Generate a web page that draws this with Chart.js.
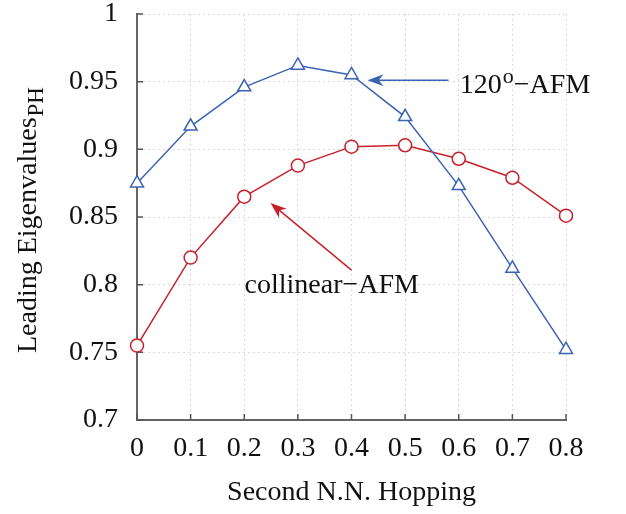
<!DOCTYPE html>
<html>
<head>
<meta charset="utf-8">
<script src="https://cdn.jsdelivr.net/npm/chart.js@4.4.1/dist/chart.umd.min.js"></script>
<style>
  html, body { margin: 0; padding: 0; background: #fff; }
</style>
</head>
<body>
<canvas id="chart" width="626" height="514"></canvas>
<script>
// data
const hopping = [0, 0.1, 0.2, 0.3, 0.4, 0.5, 0.6, 0.7, 0.8];
const afm120 = [0.875, 0.917, 0.946, 0.962, 0.955, 0.924, 0.873, 0.812, 0.752];
const collinear = [0.755, 0.820, 0.865, 0.888, 0.902, 0.903, 0.893, 0.879, 0.851];

const xTicks = [0, 0.1, 0.2, 0.3, 0.4, 0.5, 0.6, 0.7, 0.8];
const xTickLabels = ['0', '0.1', '0.2', '0.3', '0.4', '0.5', '0.6', '0.7', '0.8'];
const yTicks = [0.7, 0.75, 0.8, 0.85, 0.9, 0.95, 1];
const yTickLabels = ['0.7', '0.75', '0.8', '0.85', '0.9', '0.95', '1'];

const blue = '#3a63b3';
const red = '#c8202b';
const serif = '"Liberation Serif", "DejaVu Serif", serif';

// labels with arrows, placed in data units
const notes = [
  { main: '120', sup: 'o', rest: '\u2212AFM', x: 0.602, y: 0.9416, color: blue, from: [0.581, 0.951], to: [0.430, 0.951] },
  { main: 'collinear\u2212AFM', sup: '', rest: '', x: 0.2006, y: 0.7938, color: red, from: [0.400, 0.8108], to: [0.249, 0.8603] }
];

function toPoints(ys) {
  return hopping.map((x, i) => ({ x: x, y: ys[i] }));
}

const decor = {
  id: 'decor',
  beforeDatasetsDraw(chart) {
    const ctx = chart.ctx;
    const xs = chart.scales.x, ys = chart.scales.y;
    const area = chart.chartArea;

    // inward tick marks
    ctx.save();
    ctx.strokeStyle = '#555';
    ctx.lineWidth = 1.5;
    ctx.beginPath();
    xTicks.forEach(v => {
      const px = xs.getPixelForValue(v);
      ctx.moveTo(px, area.bottom);
      ctx.lineTo(px, area.bottom - 6);
    });
    yTicks.forEach(v => {
      const py = ys.getPixelForValue(v);
      ctx.moveTo(area.left, py);
      ctx.lineTo(area.left + 6, py);
    });
    ctx.stroke();
    ctx.restore();
  },
  afterDraw(chart) {
    const ctx = chart.ctx;
    const xs = chart.scales.x, ys = chart.scales.y;
    const area = chart.chartArea;

    // annotations
    notes.forEach(n => {
      const fx = xs.getPixelForValue(n.from[0]), fy = ys.getPixelForValue(n.from[1]);
      const tx = xs.getPixelForValue(n.to[0]), ty = ys.getPixelForValue(n.to[1]);
      const ang = Math.atan2(ty - fy, tx - fx);
      const head = 16, half = 6;
      ctx.save();
      ctx.strokeStyle = n.color;
      ctx.fillStyle = n.color;
      ctx.lineWidth = 1.5;
      ctx.beginPath();
      ctx.moveTo(fx, fy);
      ctx.lineTo(tx - Math.cos(ang) * head * 0.7, ty - Math.sin(ang) * head * 0.7);
      ctx.stroke();
      ctx.beginPath();
      ctx.moveTo(tx, ty);
      ctx.lineTo(tx - Math.cos(ang) * head - Math.sin(ang) * half, ty - Math.sin(ang) * head + Math.cos(ang) * half);
      ctx.lineTo(tx - Math.cos(ang) * head * 0.7, ty - Math.sin(ang) * head * 0.7);
      ctx.lineTo(tx - Math.cos(ang) * head + Math.sin(ang) * half, ty - Math.sin(ang) * head - Math.cos(ang) * half);
      ctx.closePath();
      ctx.fill();

      const lx = xs.getPixelForValue(n.x), ly = ys.getPixelForValue(n.y);
      ctx.fillStyle = '#111';
      ctx.textAlign = 'left';
      ctx.textBaseline = 'alphabetic';
      ctx.font = '28px ' + serif;
      ctx.fillText(n.main, lx, ly);
      let cx = lx + ctx.measureText(n.main).width;
      if (n.sup) {
        ctx.font = '22px ' + serif;
        ctx.fillText(n.sup, cx + 1, ly - 10);
        cx += ctx.measureText(n.sup).width + 1;
      }
      if (n.rest) {
        ctx.font = '28px ' + serif;
        ctx.fillText(n.rest, cx, ly);
      }
      ctx.restore();
    });

    // axis titles
    ctx.save();
    ctx.fillStyle = '#111';
    ctx.font = '28px ' + serif;
    ctx.textAlign = 'center';
    ctx.textBaseline = 'alphabetic';
    ctx.fillText('Second N.N. Hopping', (area.left + area.right) / 2, 500);

    ctx.translate(36, 353);
    ctx.rotate(-Math.PI / 2);
    ctx.textAlign = 'left';
    ctx.fillText('Leading Eigenvalues', 0, 0);
    const w = ctx.measureText('Leading Eigenvalues').width;
    ctx.font = '23px ' + serif;
    ctx.fillText('PH', w + 1, 7);
    ctx.restore();
  }
};

const gridStyle = { color: '#d9d9d9', lineWidth: 1, drawTicks: false };
const borderStyle = { display: true, color: '#666', width: 2, dash: [2, 3] };

new Chart(document.getElementById('chart').getContext('2d'), {
  type: 'line',
  data: {
    datasets: [
      {
        label: '120\u00b0-AFM',
        data: toPoints(afm120),
        borderColor: blue,
        backgroundColor: '#fff',
        borderWidth: 1.5,
        pointStyle: 'triangle',
        pointRadius: 7.5,
        pointBorderWidth: 1.5,
        tension: 0,
        clip: false
      },
      {
        label: 'collinear-AFM',
        data: toPoints(collinear),
        borderColor: red,
        backgroundColor: '#fff',
        borderWidth: 1.5,
        pointStyle: 'circle',
        pointRadius: 6.5,
        pointBorderWidth: 1.5,
        tension: 0,
        clip: false
      }
    ]
  },
  options: {
    responsive: false,
    animation: false,
    layout: { padding: { top: 14, right: 60, left: 0, bottom: 0 } },
    plugins: { legend: { display: false }, tooltip: { enabled: false } },
    scales: {
      x: {
        type: 'linear',
        min: 0,
        max: 0.8,
        afterBuildTicks: s => { s.ticks = xTicks.map(v => ({ value: v })); },
        afterFit: s => { s.height = 94; s.paddingLeft = 0; s.paddingRight = 0; },
        grid: gridStyle,
        border: borderStyle,
        ticks: {
          padding: 15,
          maxRotation: 0,
          color: '#111',
          font: { family: serif, size: 28, lineHeight: 1 },
          callback: (v, i) => xTickLabels[i]
        }
      },
      y: {
        min: 0.7,
        max: 1,
        afterBuildTicks: s => { s.ticks = yTicks.map(v => ({ value: v })); },
        afterFit: s => { s.width = 137; s.paddingTop = 0; s.paddingBottom = 0; },
        grid: gridStyle,
        border: borderStyle,
        ticks: {
          padding: 19,
          color: '#111',
          font: { family: serif, size: 28, lineHeight: 1 },
          callback: (v, i) => yTickLabels[i]
        }
      }
    }
  },
  plugins: [decor]
});
</script>
</body>
</html>
